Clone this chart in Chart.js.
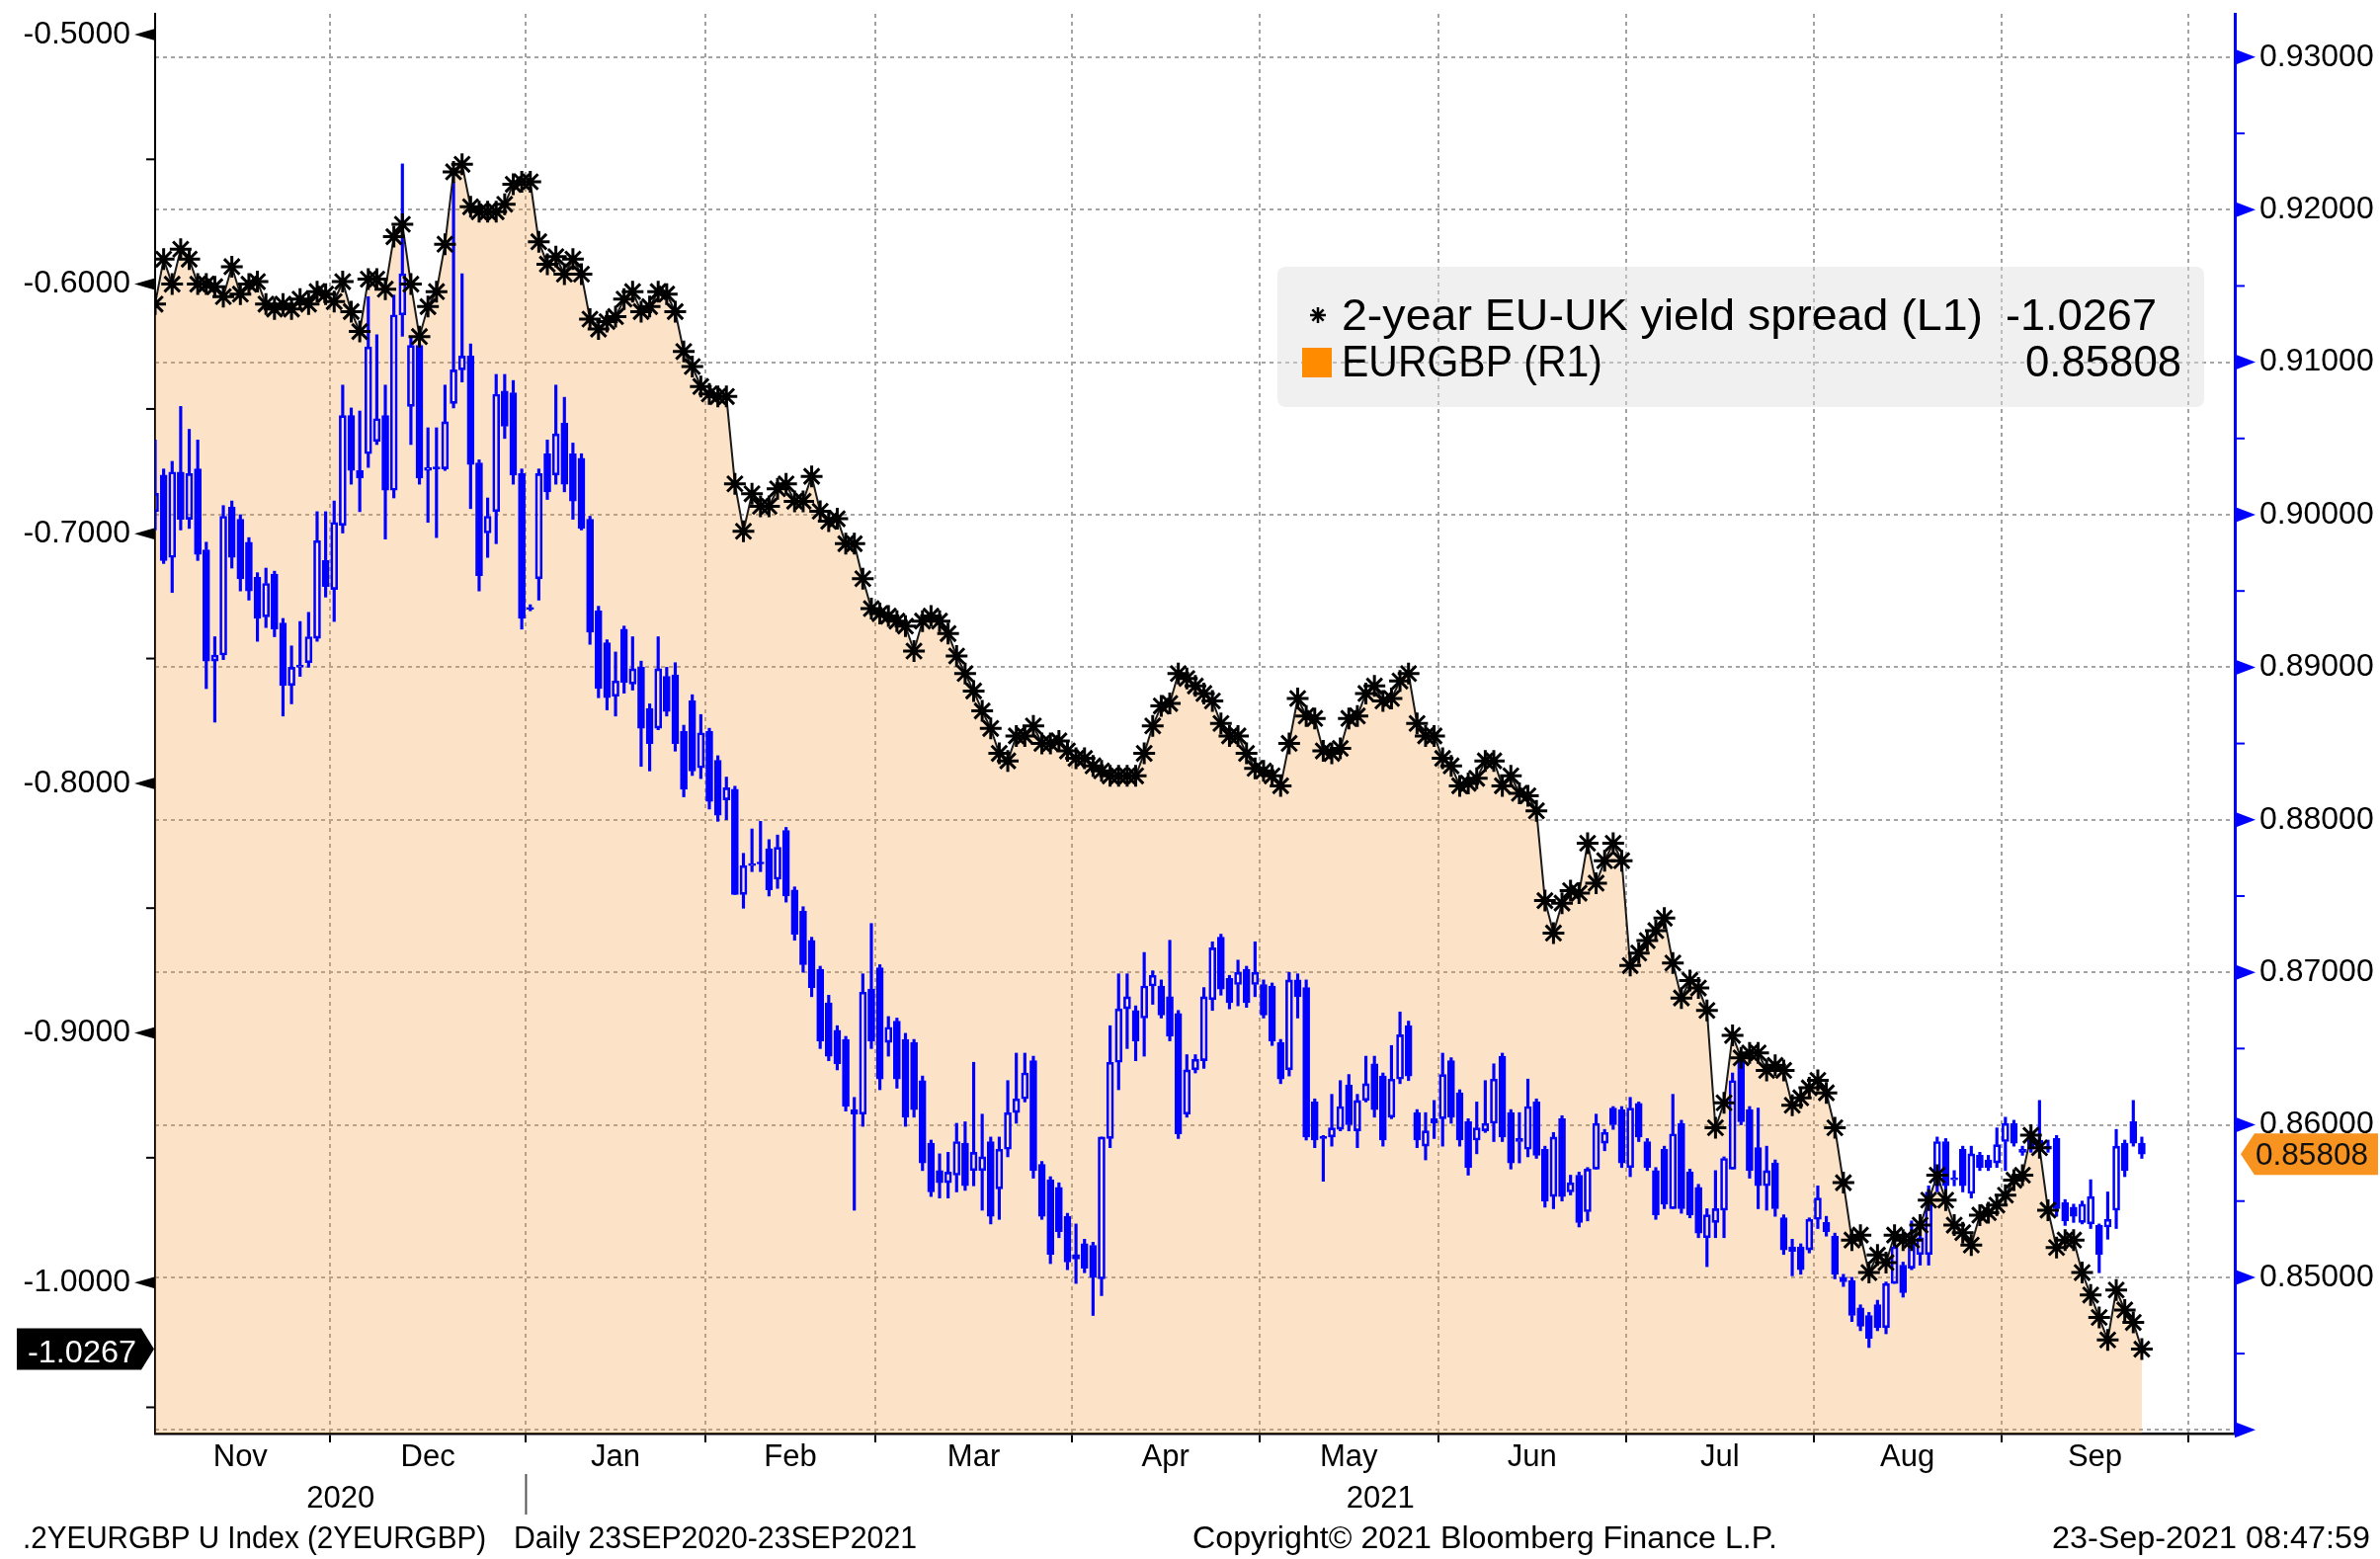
<!DOCTYPE html>
<html>
<head>
<meta charset="utf-8">
<title>2-year EU-UK yield spread vs EURGBP</title>
<script src="https://cdn.jsdelivr.net/npm/chart.js"></script>
<style>
  html, body { margin: 0; padding: 0; background: #fff; }
  #wrap { width: 2409px; height: 1578px; }
</style>
</head>
<body>
<div id="wrap"><canvas id="bbg" width="2409" height="1578"></canvas></div>
<script>
// --- DATA (one value per trading day, 2 Nov 2020 .. 23 Sep 2021) ---
const months = ['Nov', 'Dec', 'Jan', 'Feb', 'Mar', 'Apr', 'May', 'Jun', 'Jul', 'Aug', 'Sep'];
const monthStart = [0, 21, 44, 65, 85, 108, 130, 151, 173, 195, 217, 239]; // first trading day of each month
const years = ['2020', '2021'];
const leftTicks = [-0.5, -0.6, -0.7, -0.8, -0.9, -1.0];
const rightTicks = [0.93, 0.92, 0.91, 0.90, 0.89, 0.88, 0.87, 0.86, 0.85, 0.84];
const lastSpread = -1.0267;
const lastEur = 0.85808;

// 2-year EU-UK yield spread (L1)
const spread = [
  -0.608, -0.590, -0.600, -0.586, -0.590, -0.600, -0.600, -0.601, -0.605, -0.593,
  -0.604, -0.600, -0.599, -0.608, -0.610, -0.608, -0.610, -0.606, -0.608, -0.603,
  -0.604, -0.607, -0.599, -0.611, -0.619, -0.598, -0.598, -0.602, -0.581, -0.576,
  -0.600, -0.621, -0.609, -0.603, -0.584, -0.555, -0.552, -0.569, -0.571, -0.571,
  -0.571, -0.568, -0.560, -0.559, -0.559, -0.583, -0.592, -0.589, -0.596, -0.590,
  -0.596, -0.614, -0.618, -0.615, -0.613, -0.606, -0.603, -0.611, -0.609, -0.603,
  -0.604, -0.611, -0.627, -0.633, -0.641, -0.644, -0.645, -0.645, -0.680, -0.699,
  -0.684, -0.689, -0.689, -0.682, -0.680, -0.687, -0.687, -0.677, -0.691, -0.695,
  -0.694, -0.704, -0.704, -0.718, -0.730, -0.732, -0.733, -0.735, -0.737, -0.747,
  -0.735, -0.733, -0.735, -0.740, -0.749, -0.756, -0.763, -0.771, -0.778, -0.788,
  -0.791, -0.781, -0.781, -0.777, -0.784, -0.784, -0.783, -0.787, -0.790, -0.790,
  -0.793, -0.795, -0.797, -0.797, -0.797, -0.797, -0.788, -0.777, -0.769, -0.768,
  -0.756, -0.758, -0.761, -0.764, -0.767, -0.776, -0.781, -0.781, -0.788, -0.794,
  -0.795, -0.797, -0.801, -0.784, -0.766, -0.773, -0.774, -0.787, -0.788, -0.786,
  -0.774, -0.773, -0.764, -0.761, -0.767, -0.766, -0.759, -0.756, -0.776, -0.781,
  -0.781, -0.790, -0.793, -0.801, -0.800, -0.798, -0.791, -0.791, -0.801, -0.797,
  -0.804, -0.805, -0.811, -0.847, -0.860, -0.848, -0.843, -0.844, -0.824, -0.840,
  -0.831, -0.824, -0.831, -0.873, -0.868, -0.863, -0.859, -0.854, -0.872, -0.886,
  -0.879, -0.882, -0.891, -0.938, -0.928, -0.901, -0.910, -0.908, -0.908, -0.915,
  -0.913, -0.915, -0.929, -0.926, -0.922, -0.919, -0.924, -0.938, -0.960, -0.983,
  -0.981, -0.996, -0.989, -0.992, -0.981, -0.983, -0.983, -0.977, -0.967, -0.957,
  -0.967, -0.977, -0.980, -0.985, -0.973, -0.972, -0.969, -0.965, -0.959, -0.957,
  -0.941, -0.946, -0.971, -0.986, -0.983, -0.983, -0.996, -1.005, -1.014, -1.023,
  -1.003, -1.011, -1.016, -1.0267
];

// EURGBP (R1) daily candles
const eurOpen = [
  .9002, .9026, .8972, .9028, .8997, .9030, .8977, .8904, .8908, .9005,
  .8997, .8982, .8959, .8933, .8961, .8929, .8888, .8900, .8903, .8919,
  .8970, .8951, .8993, .9065, .9029, .9040, .9048, .9065, .9016, .9131,
  .9071, .9111, .9029, .9031, .9030, .9073, .9095, .9104, .9034, .8988,
  .9002, .9081, .9080, .9027, .8939, .8958, .9040, .9026, .9060, .9040,
  .9037, .8997, .8937, .8916, .8881, .8925, .8889, .8900, .8873, .8860,
  .8894, .8895, .8858, .8878, .8834, .8858, .8839, .8813, .8820, .8751,
  .8770, .8771, .8781, .8761, .8793, .8754, .8740, .8721, .8702, .8680,
  .8662, .8656, .8610, .8607, .8689, .8703, .8654, .8668, .8656, .8654,
  .8629, .8588, .8570, .8562, .8567, .8588, .8570, .8570, .8589, .8558,
  .8584, .8608, .8617, .8642, .8574, .8564, .8559, .8540, .8512, .8522,
  .8521, .8499, .8591, .8641, .8676, .8675, .8670, .8691, .8691, .8684,
  .8673, .8607, .8636, .8642, .8682, .8723, .8696, .8692, .8702, .8692,
  .8692, .8691, .8654, .8636, .8695, .8690, .8615, .8592, .8592, .8597,
  .8626, .8596, .8616, .8640, .8632, .8605, .8630, .8665, .8608, .8586,
  .8601, .8604, .8642, .8621, .8602, .8590, .8596, .8601, .8645, .8608,
  .8591, .8584, .8615, .8584, .8553, .8604, .8556, .8567, .8543, .8571,
  .8588, .8611, .8610, .8572, .8614, .8589, .8570, .8584, .8545, .8601,
  .8569, .8559, .8526, .8536, .8544, .8571, .8642, .8610, .8585, .8560,
  .8575, .8539, .8517, .8520, .8518, .8538, .8536, .8527, .8500, .8498,
  .8480, .8475, .8482, .8467, .8496, .8508, .8506, .8515, .8515, .8560,
  .8589, .8564, .8584, .8555, .8580, .8577, .8575, .8589, .8601, .8584,
  .8594, .8584, .8586, .8591, .8549, .8546, .8536, .8535, .8534, .8533,
  .8544, .8588, .8602, .8588
];
const eurHigh = [
  .9049, .9030, .9035, .9071, .9056, .9049, .8982, .8920, .9006, .9009,
  .9000, .8985, .8962, .8965, .8963, .8932, .8914, .8930, .8936, .9002,
  .9002, .9009, .9085, .9070, .9068, .9143, .9118, .9085, .9144, .9230,
  .9117, .9112, .9057, .9057, .9085, .9218, .9158, .9112, .9036, .9011,
  .9092, .9092, .9088, .9030, .8941, .9030, .9049, .9085, .9077, .9047,
  .9040, .8999, .8940, .8918, .8910, .8927, .8920, .8904, .8876, .8920,
  .8900, .8903, .8862, .8882, .8869, .8860, .8842, .8828, .8822, .8778,
  .8794, .8799, .8787, .8790, .8795, .8756, .8743, .8723, .8704, .8685,
  .8665, .8658, .8618, .8699, .8732, .8705, .8671, .8670, .8660, .8656,
  .8632, .8590, .8581, .8582, .8601, .8602, .8641, .8607, .8592, .8592,
  .8629, .8647, .8647, .8645, .8576, .8566, .8562, .8542, .8535, .8525,
  .8523, .8592, .8665, .8699, .8699, .8678, .8713, .8701, .8695, .8721,
  .8675, .8646, .8646, .8690, .8720, .8725, .8698, .8708, .8704, .8720,
  .8695, .8693, .8656, .8700, .8699, .8695, .8617, .8593, .8620, .8629,
  .8633, .8620, .8645, .8645, .8634, .8652, .8674, .8668, .8610, .8608,
  .8616, .8647, .8644, .8623, .8604, .8615, .8629, .8640, .8647, .8610,
  .8608, .8630, .8617, .8586, .8595, .8606, .8567, .8569, .8572, .8607,
  .8597, .8612, .8612, .8618, .8615, .8591, .8572, .8586, .8620, .8603,
  .8571, .8561, .8545, .8570, .8579, .8634, .8645, .8612, .8611, .8586,
  .8577, .8541, .8525, .8522, .8539, .8560, .8540, .8529, .8502, .8500,
  .8482, .8477, .8485, .8497, .8530, .8510, .8537, .8539, .8560, .8592,
  .8591, .8570, .8586, .8586, .8582, .8580, .8598, .8605, .8603, .8586,
  .8596, .8616, .8590, .8593, .8551, .8548, .8550, .8564, .8535, .8556,
  .8597, .8590, .8616, .8592
];
const eurLow = [
  .8990, .8968, .8949, .8990, .8991, .8970, .8886, .8864, .8905, .8965,
  .8950, .8944, .8917, .8926, .8920, .8868, .8876, .8894, .8900, .8917,
  .8946, .8930, .8988, .9020, .9002, .9031, .9046, .8984, .9011, .9117,
  .9046, .9020, .8995, .8985, .9029, .9070, .9087, .9004, .8950, .8972,
  .8981, .9050, .9020, .8925, .8937, .8944, .9010, .9020, .9015, .8997,
  .8990, .8915, .8880, .8872, .8868, .8883, .8885, .8835, .8832, .8859,
  .8868, .8845, .8815, .8829, .8827, .8807, .8799, .8800, .8751, .8742,
  .8766, .8766, .8750, .8755, .8746, .8721, .8700, .8684, .8650, .8642,
  .8636, .8609, .8544, .8599, .8650, .8623, .8645, .8624, .8599, .8605,
  .8570, .8553, .8552, .8552, .8556, .8557, .8560, .8544, .8535, .8538,
  .8579, .8601, .8615, .8565, .8538, .8509, .8526, .8505, .8496, .8503,
  .8475, .8488, .8585, .8623, .8650, .8642, .8645, .8679, .8670, .8655,
  .8591, .8605, .8634, .8637, .8675, .8685, .8676, .8678, .8677, .8684,
  .8670, .8652, .8627, .8632, .8670, .8590, .8585, .8563, .8586, .8596,
  .8596, .8585, .8615, .8605, .8586, .8604, .8627, .8629, .8585, .8577,
  .8591, .8586, .8601, .8586, .8567, .8581, .8595, .8589, .8589, .8571,
  .8575, .8579, .8578, .8546, .8545, .8550, .8554, .8533, .8537, .8571,
  .8583, .8597, .8572, .8566, .8589, .8570, .8538, .8545, .8545, .8542,
  .8539, .8526, .8507, .8526, .8526, .8571, .8600, .8565, .8545, .8544,
  .8540, .8515, .8501, .8502, .8516, .8532, .8527, .8499, .8494, .8471,
  .8465, .8454, .8465, .8463, .8496, .8487, .8505, .8508, .8508, .8556,
  .8553, .8560, .8556, .8552, .8570, .8570, .8572, .8570, .8586, .8580,
  .8582, .8582, .8582, .8540, .8534, .8536, .8535, .8532, .8503, .8525,
  .8532, .8566, .8586, .8578
];
const eurClose = [
  .9014, .8970, .9028, .8997, .9027, .8974, .8904, .8908, .8999, .8972,
  .8958, .8950, .8932, .8955, .8925, .8888, .8900, .8901, .8920, .8983,
  .8953, .8995, .9065, .9029, .9024, .9110, .9063, .9016, .9131, .9158,
  .9111, .9024, .9031, .9030, .9061, .9095, .9104, .9033, .8960, .8999,
  .9079, .9058, .9026, .8932, .8938, .9027, .9015, .9053, .9020, .9009,
  .8991, .8923, .8886, .8880, .8891, .8890, .8899, .8860, .8850, .8899,
  .8871, .8850, .8820, .8832, .8857, .8812, .8803, .8821, .8751, .8770,
  .8771, .8771, .8754, .8782, .8750, .8725, .8705, .8690, .8655, .8645,
  .8640, .8612, .8607, .8687, .8655, .8630, .8664, .8630, .8605, .8610,
  .8575, .8556, .8562, .8569, .8589, .8560, .8582, .8579, .8540, .8584,
  .8608, .8617, .8634, .8570, .8540, .8515, .8530, .8510, .8515, .8506,
  .8500, .8592, .8641, .8676, .8684, .8655, .8691, .8698, .8672, .8658,
  .8594, .8636, .8643, .8684, .8716, .8689, .8680, .8700, .8680, .8700,
  .8672, .8655, .8630, .8695, .8684, .8592, .8590, .8591, .8598, .8612,
  .8600, .8616, .8627, .8610, .8590, .8630, .8659, .8632, .8590, .8596,
  .8604, .8633, .8605, .8590, .8572, .8598, .8601, .8630, .8592, .8575,
  .8589, .8612, .8580, .8550, .8592, .8553, .8562, .8536, .8571, .8601,
  .8595, .8600, .8575, .8611, .8592, .8572, .8541, .8548, .8594, .8545,
  .8541, .8529, .8541, .8545, .8578, .8629, .8602, .8570, .8560, .8570,
  .8545, .8518, .8520, .8505, .8538, .8552, .8530, .8502, .8497, .8475,
  .8468, .8460, .8467, .8496, .8520, .8490, .8525, .8526, .8556, .8589,
  .8560, .8565, .8560, .8581, .8572, .8572, .8587, .8601, .8588, .8582,
  .8584, .8590, .8584, .8545, .8537, .8540, .8548, .8553, .8515, .8538,
  .8586, .8570, .8588, .85808
];

// --- STYLE ---
const FONT = '"Liberation Sans", Arial, Helvetica, sans-serif';
const BLUE = '#0000ff';
const GRID = '#a3a3a3';
const CLEAR = 'rgba(0,0,0,0)';

Chart.defaults.font.family = FONT;
Chart.defaults.font.size = 31;
Chart.defaults.color = '#000';

// month boundaries sit half a day before the first trading day
const boundaries = monthStart.slice(1).map(i => i - 0.5);
const mids = months.map((m, k) => ((monthStart[k] - 0.5) + (monthStart[k + 1] - 0.5)) / 2);
const xTicks = boundaries.concat(mids).sort((a, b) => a - b);
const isBoundary = v => boundaries.indexOf(v) >= 0;

// keep the plot area exactly where Bloomberg puts it
function noPad(s) {
  s.paddingTop = 0; s.paddingBottom = 0; s.paddingLeft = 0; s.paddingRight = 0;
}

// --- DRAW HELPERS ---
function fitText(ctx, text, x, y, w, size, color) {
  ctx.save();
  ctx.font = size + 'px ' + FONT;
  ctx.fillStyle = color;
  ctx.textBaseline = 'alphabetic';
  ctx.textAlign = 'left';
  const m = ctx.measureText(text).width;
  ctx.translate(x, y);
  ctx.scale(w / m, 1);
  ctx.fillText(text, 0, 0);
  ctx.restore();
}

function tri(ctx, xBase, xTip, y, h, color) {
  ctx.beginPath();
  ctx.moveTo(xBase, y - h);
  ctx.lineTo(xBase, y + h);
  ctx.lineTo(xTip, y);
  ctx.closePath();
  ctx.fillStyle = color;
  ctx.fill();
}

function seg(ctx, x1, y1, x2, y2, w, color) {
  ctx.beginPath();
  ctx.moveTo(x1, y1);
  ctx.lineTo(x2, y2);
  ctx.lineWidth = w;
  ctx.strokeStyle = color;
  ctx.stroke();
}

function asterisk(ctx, cx, cy, r, w) {
  ctx.beginPath();
  for (let k = 0; k < 4; k++) {
    const a = k * Math.PI / 4;
    ctx.moveTo(cx - r * Math.cos(a), cy - r * Math.sin(a));
    ctx.lineTo(cx + r * Math.cos(a), cy + r * Math.sin(a));
  }
  ctx.lineWidth = w;
  ctx.strokeStyle = '#000';
  ctx.stroke();
}

function roundBox(ctx, x, y, w, h, r, fill) {
  ctx.beginPath();
  ctx.moveTo(x + r, y);
  ctx.arcTo(x + w, y, x + w, y + h, r);
  ctx.arcTo(x + w, y + h, x, y + h, r);
  ctx.arcTo(x, y + h, x, y, r);
  ctx.arcTo(x, y, x + w, y, r);
  ctx.closePath();
  ctx.fillStyle = fill;
  ctx.fill();
}

// axis arrows, last-value tags, legend, year row and footer
const bloombergDecor = {
  id: 'bloombergDecor',
  afterDraw(chart) {
    const ctx = chart.ctx;
    const { left, right, bottom } = chart.chartArea;
    const yL = chart.scales.yL, yR = chart.scales.yR, x = chart.scales.x;
    ctx.save();

    // left axis: arrows on majors, short ticks on halves
    leftTicks.forEach(v => tri(ctx, left, left - 21, yL.getPixelForValue(v), 6, '#000'));
    leftTicks.forEach(v => seg(ctx, left - 9, yL.getPixelForValue(v - 0.05), left, yL.getPixelForValue(v - 0.05), 2, '#000'));

    // right axis
    rightTicks.forEach(v => tri(ctx, right, right + 21, yR.getPixelForValue(v), 8, BLUE));
    rightTicks.forEach(v => {
      const m = v - 0.005;
      if (m > yR.min) seg(ctx, right, yR.getPixelForValue(m), right + 10, yR.getPixelForValue(m), 2, BLUE);
    });

    // last value tags
    const ys = yL.getPixelForValue(lastSpread);
    ctx.beginPath();
    ctx.moveTo(17, ys - 21); ctx.lineTo(143, ys - 21); ctx.lineTo(156, ys);
    ctx.lineTo(143, ys + 21); ctx.lineTo(17, ys + 21); ctx.closePath();
    ctx.fillStyle = '#000';
    ctx.fill();
    fitText(ctx, lastSpread.toFixed(4), 28, ys + 13, 110, 31, '#fff');

    const ye = yR.getPixelForValue(lastEur);
    ctx.beginPath();
    ctx.moveTo(right + 6, ye); ctx.lineTo(right + 20, ye - 21); ctx.lineTo(2407, ye - 21);
    ctx.lineTo(2407, ye + 21); ctx.lineTo(right + 20, ye + 21); ctx.closePath();
    ctx.fillStyle = '#f7931e';
    ctx.fill();
    fitText(ctx, lastEur.toFixed(5), right + 21, ye + 11, 114, 31, '#111');

    // legend
    const ds = chart.data.datasets;
    roundBox(ctx, 1293, 270, 938, 142, 8, 'rgba(222,222,222,0.45)');
    asterisk(ctx, 1334, 319, 8, 2.5);
    ctx.fillStyle = '#ff8c00';
    ctx.fillRect(1318, 352, 30, 30);
    fitText(ctx, ds[0].label, 1358, 334, 649, 44, '#000');
    fitText(ctx, lastSpread.toFixed(4), 2030, 334, 153, 44, '#000');
    fitText(ctx, ds[3].label, 1358, 381, 264, 44, '#000');
    fitText(ctx, lastEur.toFixed(5), 2050, 381, 158, 44, '#000');

    // year row under the months
    const jan = boundaries[1];
    const spans = [[x.min, jan], [jan, x.max]];
    ctx.font = '31px ' + FONT;
    ctx.fillStyle = '#000';
    ctx.textAlign = 'center';
    ctx.textBaseline = 'alphabetic';
    years.forEach((yr, k) => {
      const c = x.getPixelForValue((spans[k][0] + spans[k][1]) / 2);
      ctx.fillText(yr, c, 1526);
    });
    const xj = x.getPixelForValue(jan);
    seg(ctx, xj, bottom + 41, xj, bottom + 82, 2, '#555');

    // footer
    fitText(ctx, '.2YEURGBP U Index (2YEURGBP)', 23, 1567, 469, 31, '#000');
    fitText(ctx, 'Daily 23SEP2020-23SEP2021', 520, 1567, 408, 31, '#000');
    fitText(ctx, 'Copyright\u00A9 2021 Bloomberg Finance L.P.', 1207, 1567, 592, 31, '#000');
    fitText(ctx, '23-Sep-2021 08:47:59', 2077, 1567, 322, 31, '#000');

    ctx.restore();
  }
};

// --- CHART ---
const idx = spread.map((_, i) => i);

new Chart(document.getElementById('bbg').getContext('2d'), {
  type: 'bar',
  data: {
    datasets: [
      {
        type: 'line',
        label: '2-year EU-UK yield spread (L1)',
        data: idx.map(i => ({ x: i, y: spread[i] })),
        yAxisID: 'yL',
        borderColor: '#1a1a1a',
        borderWidth: 2,
        tension: 0,
        pointStyle: 'star',
        pointRadius: 11,
        pointBorderWidth: 3,
        pointBorderColor: '#000',
        pointBackgroundColor: '#000',
        fill: 'start',
        backgroundColor: 'rgba(245,160,70,0.3)',
        order: 0
      },
      {
        label: 'upper wick',
        data: idx.map(i => ({ x: i, y: [Math.max(eurOpen[i], eurClose[i]), eurHigh[i]] })),
        yAxisID: 'yR',
        backgroundColor: BLUE,
        barThickness: 2.5,
        grouped: false,
        order: 2
      },
      {
        label: 'lower wick',
        data: idx.map(i => ({ x: i, y: [eurLow[i], Math.min(eurOpen[i], eurClose[i])] })),
        yAxisID: 'yR',
        backgroundColor: BLUE,
        barThickness: 2.5,
        grouped: false,
        order: 2
      },
      {
        label: 'EURGBP (R1)',
        data: idx.map(i => ({ x: i, y: [eurOpen[i], eurClose[i]] })),
        yAxisID: 'yR',
        backgroundColor: idx.map(i => eurClose[i] < eurOpen[i] ? BLUE : CLEAR),
        borderColor: BLUE,
        borderWidth: 2,
        borderSkipped: false,
        barThickness: 7,
        minBarLength: 2,
        grouped: false,
        order: 1
      }
    ]
  },
  options: {
    responsive: false,
    devicePixelRatio: 1,
    animation: false,
    layout: { padding: { top: 7, left: 0, right: 0, bottom: 0 } },
    plugins: {
      legend: { display: false },
      tooltip: { enabled: false },
      filler: { drawTime: 'beforeDatasetsDraw' }
    },
    scales: {
      x: {
        type: 'linear',
        min: 0,
        max: 243.9,
        offset: false,
        afterBuildTicks: s => { s.ticks = xTicks.map(v => ({ value: v })); },
        afterFit: s => { s.height = 127; noPad(s); },
        grid: {
          offset: false,
          color: c => (c.tick && isBoundary(c.tick.value)) ? GRID : CLEAR,
          lineWidth: 2,
          tickColor: c => (c.tick && isBoundary(c.tick.value)) ? '#000' : CLEAR,
          tickLength: 9,
          tickWidth: 2
        },
        border: { display: true, color: '#000', width: 2.5, dash: [4, 4] },
        ticks: {
          autoSkip: false,
          maxRotation: 0,
          padding: -3,
          callback: v => { const k = mids.indexOf(v); return k >= 0 ? months[k] : ''; }
        }
      },
      yL: {
        type: 'linear',
        position: 'left',
        min: -1.0605,
        max: -0.4917,
        afterBuildTicks: s => { s.ticks = leftTicks.map(v => ({ value: v })); },
        afterFit: s => { s.width = 157; noPad(s); },
        grid: { drawOnChartArea: false, drawTicks: false },
        border: { color: '#000', width: 2 },
        ticks: { padding: 25, font: { size: 32 }, callback: v => v.toFixed(4) }
      },
      yR: {
        type: 'linear',
        position: 'right',
        min: 0.83976,
        max: 0.93284,
        afterBuildTicks: s => { s.ticks = rightTicks.map(v => ({ value: v })); },
        afterFit: s => { s.width = 147; noPad(s); },
        grid: { color: GRID, lineWidth: 2, drawTicks: false },
        border: { color: BLUE, width: 3, dash: [4, 4] },
        ticks: { padding: 25, font: { size: 32 }, callback: v => v < 0.845 ? '' : v.toFixed(5) }
      }
    }
  },
  plugins: [bloombergDecor]
});
</script>
</body>
</html>
